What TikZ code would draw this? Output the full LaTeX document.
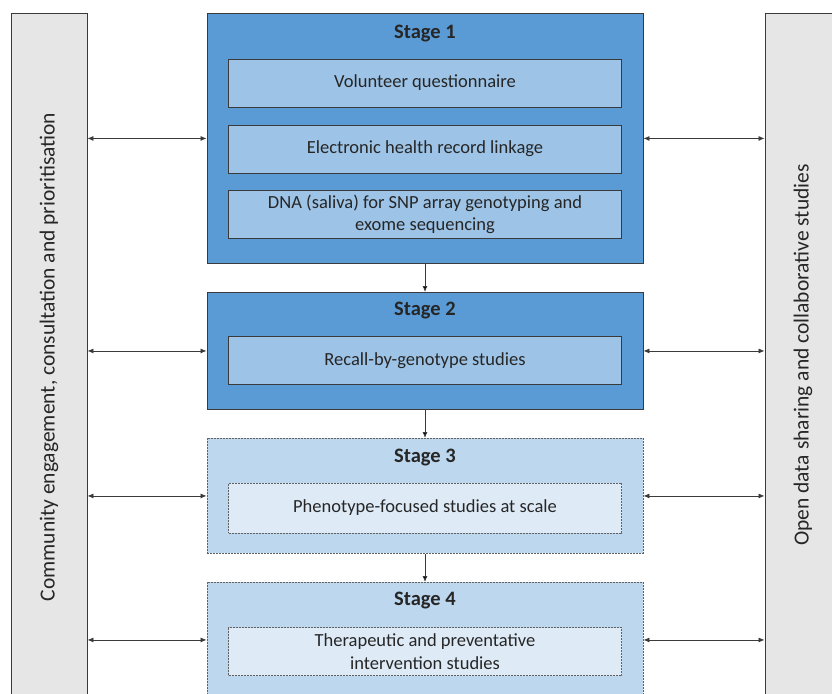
\documentclass[tikz,border=0pt]{standalone}
\usepackage{fontspec}
\setmainfont{Carlito}
\usetikzlibrary{arrows.meta,positioning}
\definecolor{darkblue}{HTML}{5B9BD5}
\definecolor{midblue}{HTML}{9DC3E6}
\definecolor{paleblue}{HTML}{BDD7EE}
\definecolor{lightblue}{HTML}{DEEBF7}
\definecolor{bargray}{HTML}{E7E6E6}
\definecolor{edgegray}{HTML}{3A3A3A}
\definecolor{inkgray}{HTML}{262626}
\tikzstyle{stage}=[
	draw=edgegray,
	line width=0.9pt,
	minimum width=436pt,
	inner sep=0pt,
	anchor=north
]
\tikzstyle{solidstage}=[stage, fill=darkblue]
\tikzstyle{planstage}=[stage, fill=paleblue, draw=edgegray!80, dash pattern=on 2pt off 1pt]
\tikzstyle{task}=[
	draw=edgegray,
	line width=0.9pt,
	minimum width=393pt,
	minimum height=48pt,
	inner sep=0pt,
	align=center,
	text=inkgray,
	font=\fontsize{18.5}{22.5}\selectfont
]
\tikzstyle{solidtask}=[task, fill=midblue]
\tikzstyle{plantask}=[task, fill=lightblue, draw=edgegray!80, dash pattern=on 2pt off 1pt]
\tikzstyle{title}=[text=inkgray, font=\bfseries\fontsize{20.5}{24}\selectfont]
\tikzstyle{bar}=[draw=edgegray, fill=bargray, line width=0.9pt, minimum width=76pt, minimum height=720pt, anchor=north]
\tikzstyle{bartext}=[rotate=90, text=inkgray, font=\fontsize{21.5}{24}\selectfont]
\tikzstyle{flow}=[draw=edgegray, line width=0.8pt, -{Latex[length=6pt,width=5pt]}]
\tikzstyle{link}=[draw=edgegray, line width=0.8pt, {Latex[length=6pt,width=5pt]}-{Latex[length=6pt,width=5pt]}]

\begin{document}
\begin{tikzpicture}[x=1pt,y=-1pt]
			
			\clip (0,0) rectangle (832,693);
			\useasboundingbox (0,0) rectangle (832,693);
			
			% side bars
			\node[bar]	(L)	at (49,13)	{};
			\node[bar]	(R)	at (803,13)	{};
			\node[bartext]	(LT)	at (49,357)	{Community engagement, consultation and prioritisation};
			\node[bartext]	(RT)	at (803,355)	{Open data sharing and collaborative studies};
			
			% stages
			\node[solidstage, minimum height=250pt]	(S1)	at (425,13)	{};
			\node[solidstage, minimum height=117pt]	(S2)	at (425,292)	{};
			\node[planstage, minimum height=115pt]	(S3)	at (425,438)	{};
			\node[planstage, minimum height=115pt]	(S4)	at (425,582)	{};
			
			\node[title]	(T1)	at (425,34)	{Stage 1};
			\node[title]	(T2)	at (425,311)	{Stage 2};
			\node[title]	(T3)	at (425,458)	{Stage 3};
			\node[title]	(T4)	at (425,601)	{Stage 4};
			
			\node[solidtask]	(A)	at (425,83)	{Volunteer questionnaire};
			\node[solidtask]	(B)	at (425,149)	{Electronic health record linkage};
			\node[solidtask]	(C)	at (425,214.5)	{DNA (saliva) for SNP array genotyping and\\exome sequencing};
			\node[solidtask]	(D)	at (425,360.5)	{Recall-by-genotype studies};
			\node[plantask, minimum height=50pt]	(E)	at (425,508)	{Phenotype-focused studies at scale};
			\node[plantask]	(F)	at (425,651.5)	{Therapeutic and preventative\\intervention studies};
			
			\path[flow]
				(S1) edge (S2)
				(S2) edge (S3)
				(S3) edge (S4);
			
			\foreach \s in {S1,S2,S3,S4} {
				\draw[link] (L.east |- \s.west) -- (\s.west);
				\draw[link] (\s.east) -- (R.west |- \s.east);
			}
			
			\end{tikzpicture}
\end{document}
